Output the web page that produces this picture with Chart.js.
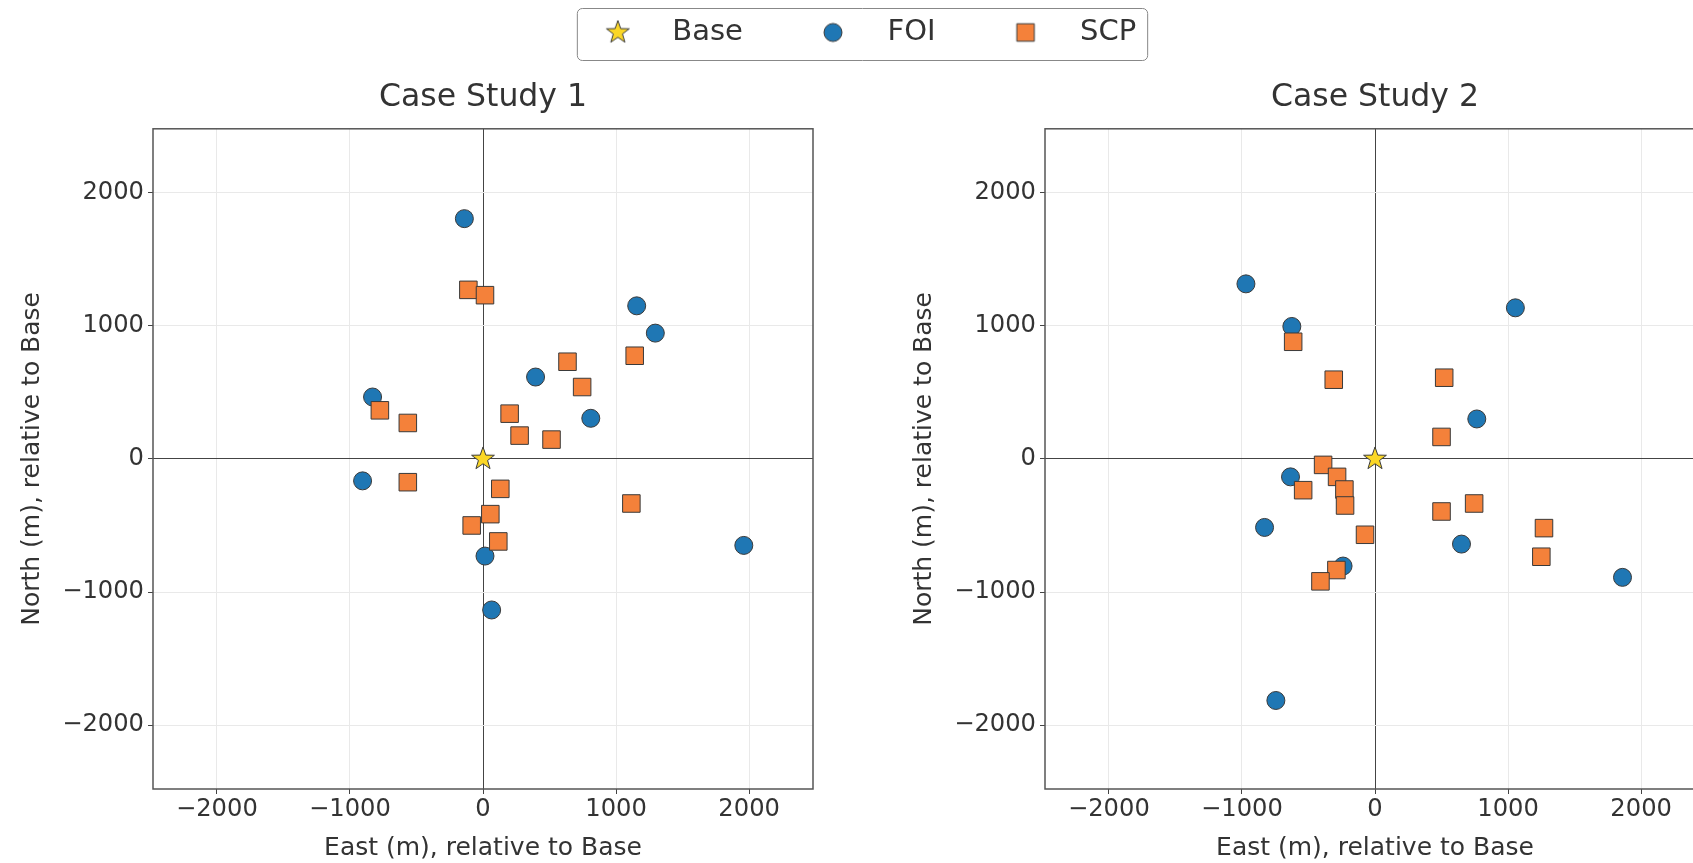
<!DOCTYPE html>
<html>
<head>
<meta charset="utf-8">
<script src="https://cdn.jsdelivr.net/npm/chart.js@4.4.1/dist/chart.umd.min.js"></script>
<style>
html, body { margin: 0; padding: 0; background: #fff; overflow: hidden; }
#wrap { position: relative; width: 1693px; height: 863px; overflow: hidden; }
canvas { position: absolute; }
</style>
</head>
<body>
<div id="wrap">
  <canvas id="chart-1" width="892" height="863" style="left:0;top:0"></canvas>
  <canvas id="chart-2" width="892" height="863" style="left:892px;top:0"></canvas>
  <canvas id="legend" width="1200" height="170" style="left:257px;top:-32px"></canvas>
</div>
<script>
// --- data ---
const seriesNames = ['Base', 'FOI', 'SCP'];
const caseTitles = ['Case Study 1', 'Case Study 2'];
const tickValues = [-2000, -1000, 0, 1000, 2000];

const baseX = [0];
const baseY = [0];

// Case Study 1
const foi1X = [-140, 1155, 1295, 395, -830, 810, -905, 1960, 15, 65];
const foi1Y = [1805, 1150, 945, 615, 465, 305, -165, -650, -730, -1135];
const scp1X = [-110, 15, 1140, 635, 745, -775, -565, 200, 275, 515, -565, 130, 1115, 55, -85, 115];
const scp1Y = [1270, 1230, 775, 730, 540, 365, 270, 340, 175, 145, -175, -225, -335, -415, -500, -620];

// Case Study 2
const foi2X = [-970, -625, 1055, 765, -635, -830, 650, -240, 1860, -745];
const foi2Y = [1315, 995, 1135, 300, -135, -515, -640, -805, -890, -1815];
const scp2X = [-615, -310, 520, 500, -390, -285, -540, -230, -225, 745, 500, 1270, -75, 1250, -290, -410];
const scp2Y = [880, 595, 610, 165, -45, -135, -235, -230, -350, -335, -395, -520, -570, -735, -835, -920];

const FONT = "'DejaVu Sans', sans-serif";
Chart.defaults.font.family = FONT;
Chart.defaults.color = '#333';

const BLUE = '#1f77b4';
const ORANGE = '#f4813a';
const GOLD = '#fbd726';
const EDGE = '#3a3a3a';

function zip(xs, ys) {
    return xs.map((x, i) => ({x: x, y: ys[i]}));
}

// small canvases used as marker images
function marker(kind, fill) {
    const c = document.createElement('canvas');
    c.width = 26;
    c.height = 26;
    const g = c.getContext('2d');
    g.fillStyle = fill;
    g.strokeStyle = EDGE;
    g.lineWidth = 1;
    g.beginPath();
    if (kind === 'star') {
        for (let i = 0; i < 10; i++) {
            const r = i % 2 ? 4.8 : 12;
            const a = -Math.PI / 2 + i * Math.PI / 5;
            g.lineTo(13 + r * Math.cos(a), 13 + r * Math.sin(a));
        }
        g.closePath();
    } else if (kind === 'circle') {
        g.arc(13, 13, 9, 0, 2 * Math.PI);
    } else {
        g.rect(4.25, 4.25, 17.5, 17.5);
    }
    g.fill();
    g.stroke();
    return c;
}

const starImg = marker('star', GOLD);

const framePlugin = {
    id: 'frame',
    beforeDatasetsDraw(chart) {
        const {ctx, chartArea: a} = chart;
        ctx.save();
        ctx.strokeStyle = '#555';
        ctx.lineWidth = 1.5;
        ctx.strokeRect(a.left, a.top, a.right - a.left, a.bottom - a.top);
        ctx.restore();
    }
};

function fmt(v) {
    return v < 0 ? '\u2212' + Math.abs(v) : String(v);
}

function axis(titleText, isX) {
    return {
        type: 'linear',
        min: -2480,
        max: 2480,
        afterBuildTicks: s => { s.ticks = tickValues.map(v => ({value: v})); },
        afterFit: isX ? (s => { s.height = 74; }) : (s => { s.width = 153; }),
        ticks: {
            callback: fmt,
            color: '#333',
            font: {size: 24.2},
            padding: isX ? 1 : 4,
            maxRotation: 0,
            autoSkip: false
        },
        grid: {
            color: c => (c.tick && c.tick.value === 0) ? '#444' : '#e9e9e9',
            lineWidth: 1,
            tickColor: '#444',
            tickLength: 5
        },
        border: {display: false},
        title: {
            display: true,
            text: titleText,
            color: '#333',
            font: {size: 25},
            padding: isX ? {top: 0, bottom: 0} : {top: 17, bottom: 0}
        }
    };
}

function makeChart(id, title, foiX, foiY, scpX, scpY) {
    new Chart(document.getElementById(id), {
        type: 'scatter',
        data: {
            datasets: [
                {
                    label: seriesNames[0],
                    data: zip(baseX, baseY),
                    pointStyle: starImg,
                    pointRadius: 12
                },
                {
                    label: seriesNames[2],
                    data: zip(scpX, scpY),
                    pointStyle: 'rect',
                    pointRadius: 12.4,
                    backgroundColor: ORANGE,
                    borderColor: EDGE,
                    borderWidth: 1
                },
                {
                    label: seriesNames[1],
                    data: zip(foiX, foiY),
                    pointStyle: 'circle',
                    pointRadius: 9,
                    backgroundColor: BLUE,
                    borderColor: EDGE,
                    borderWidth: 1
                }
            ]
        },
        options: {
            responsive: false,
            animation: false,
            events: [],
            layout: {padding: {top: 0, right: 79, bottom: 0, left: 0}},
            plugins: {
                legend: {display: false},
                tooltip: {enabled: false},
                title: {
                    display: true,
                    text: title,
                    fullSize: false,
                    color: '#333',
                    font: {size: 31.5, weight: 'normal'},
                    padding: {top: 79, bottom: 12}
                }
            },
            scales: {
                x: axis('East (m), relative to Base', true),
                y: axis('North (m), relative to Base', false)
            }
        },
        plugins: [framePlugin]
    });
}

makeChart('chart-1', caseTitles[0], foi1X, foi1Y, scp1X, scp1Y);
makeChart('chart-2', caseTitles[1], foi2X, foi2Y, scp2X, scp2Y);

// shared legend above both panels
const legendMarkers = [starImg, marker('circle', BLUE), marker('square', ORANGE)];

const legendBox = {
    id: 'legendBox',
    afterDraw(chart) {
        const hb = chart.legend.legendHitBoxes;
        if (!hb || !hb.length) return;
        const last = hb[hb.length - 1];
        const cy = hb[0].top + hb[0].height / 2;
        const x0 = hb[0].left - 1;
        const x1 = last.left + last.width + 11;
        const ctx = chart.ctx;
        ctx.save();
        ctx.strokeStyle = '#888';
        ctx.lineWidth = 1;
        ctx.beginPath();
        ctx.roundRect(x0 + 0.5, cy - 24.5 + 0.5, x1 - x0, 52, 5);
        ctx.stroke();
        ctx.restore();
    }
};

new Chart(document.getElementById('legend'), {
    type: 'scatter',
    data: {
        datasets: seriesNames.map((name, i) => ({
            label: name,
            data: [],
            pointStyle: legendMarkers[i]
        }))
    },
    options: {
        responsive: false,
        animation: false,
        events: [],
        layout: {padding: 0},
        scales: {
            x: {display: false},
            y: {display: false}
        },
        plugins: {
            tooltip: {enabled: false},
            legend: {
                display: true,
                position: 'top',
                labels: {
                    usePointStyle: true,
                    pointStyleWidth: 80,
                    boxHeight: 29,
                    padding: 50,
                    color: '#333',
                    font: {size: 29},
                    generateLabels: chart => chart.data.datasets.map((ds, i) => ({
                        text: ds.label,
                        pointStyle: ds.pointStyle,
                        fillStyle: 'transparent',
                        strokeStyle: 'transparent',
                        lineWidth: 0,
                        hidden: false,
                        datasetIndex: i,
                        fontColor: '#333'
                    }))
                }
            }
        }
    },
    plugins: [legendBox]
});
</script>
</body>
</html>
